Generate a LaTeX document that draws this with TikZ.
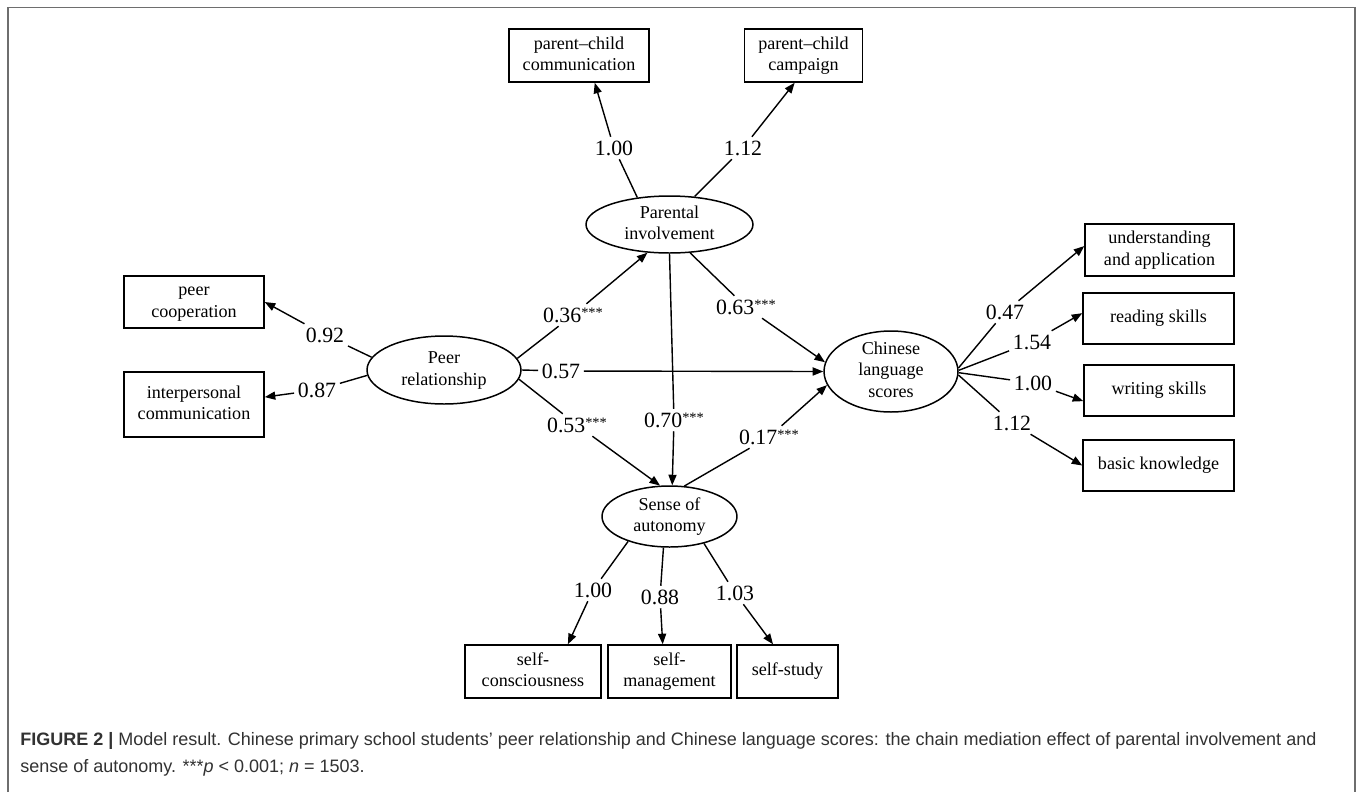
\documentclass[tikz,border=0pt]{standalone}
\usepackage{fontspec}
\setmainfont{Liberation Serif}
\newfontfamily\capfont{Liberation Sans}
\usetikzlibrary{shapes.geometric,arrows.meta}
\definecolor{framegray}{RGB}{110,110,110}
\definecolor{capgray}{RGB}{50,50,50}
\newcommand\sig{{\fontsize{8.2}{9}\selectfont\raisebox{2.8pt}{***}}}
\begin{document}
\begin{tikzpicture}[x=0.02cm,y=-0.02cm,
  box/.style={draw, rectangle, line width=0.85pt, align=center, inner sep=0pt, font=\fontsize{10.3}{12.3}\selectfont},
  ell/.style={draw, ellipse, line width=0.85pt, inner sep=0pt},
  etext/.style={align=center, inner sep=0pt, font=\fontsize{10.3}{12.3}\selectfont},
  lbl/.style={inner sep=2pt, text height=8.4pt, text depth=0pt, font=\fontsize{12.4}{14}\selectfont},
  conn/.style={line width=0.8pt},
  arr/.style={line width=0.8pt, -{Triangle[length=6pt,width=4.6pt]}},
  captext/.style={anchor=base west, inner sep=0pt, text=capgray, font=\capfont\fontsize{10.24}{12}\selectfont}
]
\useasboundingbox (0,0) rectangle (1358,792);
\fill[white] (0,0) rectangle (1358,792);
\draw[framegray, line width=1.1pt] (8,792) -- (8,7.5) -- (1355,7.5) -- (1355,792);

% observed boxes
\node[box, minimum width=2.8cm, minimum height=1.06cm] (pcc) at (579,55.5) {\strut parent–child\\\strut communication};
\node[box, minimum width=2.36cm, minimum height=1.06cm] (pcp) at (803.5,55.5) {\strut parent–child\\\strut campaign};
\node[box, minimum width=2.8cm, minimum height=1.04cm] (pc) at (194,302) {\strut peer\\\strut cooperation};
\node[box, minimum width=2.8cm, minimum height=1.3cm] (ic) at (194,404.5) {\strut interpersonal\\\strut communication};
\node[box, minimum width=2.98cm, minimum height=1.04cm] (ua) at (1159.5,250) {\strut understanding\\\strut and application};
\node[box, minimum width=3.02cm, minimum height=1.02cm] (rs) at (1158.5,318.5) {\strut reading skills};
\node[box, minimum width=3.0cm, minimum height=1.02cm] (ws) at (1159,390.5) {\strut writing skills};
\node[box, minimum width=3.02cm, minimum height=1.02cm] (bk) at (1158.5,465.5) {\strut basic knowledge};
\node[box, minimum width=2.72cm, minimum height=1.06cm] (sc) at (533,671.5) {\strut self-\\\strut consciousness};
\node[box, minimum width=2.46cm, minimum height=1.06cm] (sm) at (669.5,671.5) {\strut self-\\\strut management};
\node[box, minimum width=2.02cm, minimum height=1.06cm] (ss) at (787.5,671.5) {\strut self-study};

% latent variables
\node[ell, minimum width=3.34cm, minimum height=1.14cm, label={[etext]center:\strut Parental\\\strut involvement}] (PI) at (669.5,224.5) {};
\node[ell, minimum width=3.08cm, minimum height=1.36cm, label={[etext]center:\strut Peer\\\strut relationship}] (PR) at (444,370) {};
\node[ell, minimum width=2.68cm, minimum height=1.62cm, label={[etext]center:\strut Chinese\\\strut language\\\strut scores}] (CLS) at (891,371.5) {};
\node[ell, minimum width=2.7cm, minimum height=1.22cm, label={[etext]center:\strut Sense of\\\strut autonomy}] (SA) at (669.5,516.5) {};

% coefficient labels
\node[lbl] (l100a) at (614,148) {1.00};
\node[lbl] (l112a) at (743,148) {1.12};
\node[lbl] (l036) at (573,315) {0.36\sig};
\node[lbl] (l063) at (746,307) {0.63\sig};
\node[lbl] (l057) at (561,371) {0.57};
\node[lbl] (l053) at (577,425) {0.53\sig};
\node[lbl] (l070) at (674,420) {0.70\sig};
\node[lbl] (l017) at (769,437) {0.17\sig};
\node[lbl] (l092) at (325,335) {0.92};
\node[lbl] (l087) at (317,390) {0.87};
\node[lbl] (l047) at (1005,312) {0.47};
\node[lbl] (l154) at (1032,342) {1.54};
\node[lbl] (l100c) at (1033,383) {1.00};
\node[lbl] (l112c) at (1012,423) {1.12};
\node[lbl] (l100s) at (593,590) {1.00};
\node[lbl] (l088) at (660,597) {0.88};
\node[lbl] (l103) at (735,593) {1.03};

% parental involvement indicators
\draw[conn] (PI.140) -- (l100a); \draw[arr] (l100a) -- (pcc.300);
\draw[conn] (PI.48) -- (l112a); \draw[arr] (l112a) -- (pcp.252);
% peer relationship indicators
\draw[conn] (PR.170) -- (l092); \draw[arr] (l092) -- (pc.east);
\draw[conn] (PR.184) -- (l087); \draw[arr] (l087) -- (ic.6);
% structural paths
\draw[conn] (PR.9) -- (l036); \draw[arr] (l036) -- (PI.232);
\draw[conn] (PR.east) -- (l057); \draw[arr] (l057) -- (CLS.west);
\draw[conn] (PR.353) -- (l053); \draw[arr] (l053) -- (SA.107);
\draw[conn] (PI.306) -- (l063); \draw[arr] (l063) -- (CLS.172);
\draw[conn] (PI.270) -- (l070); \draw[arr] (l070) -- (SA.85);
\draw[conn] (SA.64) -- (l017); \draw[arr] (l017) -- (CLS.192);
% Chinese language indicators
\draw[conn] (CLS.3) -- (l047); \draw[arr] (l047) -- (ua.177);
\draw[conn] (CLS.1) -- (l154); \draw[arr] (l154) -- (rs.176);
\draw[conn] (CLS.359) -- (l100c); \draw[arr] (l100c) -- (ws.188);
\draw[conn] (CLS.357) -- (l112c); \draw[arr] (l112c) -- (bk.west);
% autonomy indicators
\draw[conn] (SA.211) -- (l100s); \draw[arr] (l100s) -- (sc.38);
\draw[conn] (SA.259) -- (l088); \draw[arr] (l088) -- (sm.104);
\draw[conn] (SA.322) -- (l103); \draw[arr] (l103) -- (ss.118);

% caption
\node[captext] (cap1) at (20,745) {\textbf{FIGURE 2 |} Model result. Chinese primary school students’ peer relationship and Chinese language scores: the chain mediation effect of parental involvement and};
\node[captext] (cap2) at (20,772) {sense of autonomy. ***\textit{p} < 0.001; \textit{n} = 1503.};
\end{tikzpicture}
\end{document}
